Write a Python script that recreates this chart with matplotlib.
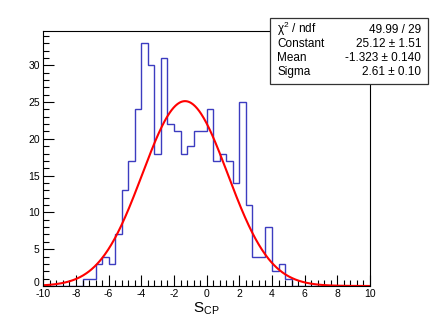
import numpy as np
import matplotlib.pyplot as plt
from matplotlib.patches import Rectangle
from matplotlib.ticker import MultipleLocator, FuncFormatter
from matplotlib.transforms import offset_copy

plt.rcParams['font.family'] = ['Liberation Sans', 'DejaVu Sans']
plt.rcParams['mathtext.fontset'] = 'custom'
plt.rcParams['mathtext.rm'] = 'Liberation Sans'
plt.rcParams['mathtext.it'] = 'Liberation Sans:italic'
plt.rcParams['axes.unicode_minus'] = False

# histogram: 50 bins of width 0.4 from -10 to 10
edges = np.linspace(-10, 10, 51)
counts = [0, 0, 0, 0, 0, 0,
          1, 1, 3, 4, 3, 7, 13, 17, 24, 33, 30, 18, 31, 22,
          21, 18, 19, 21, 21, 24, 17, 18, 17, 14, 25, 11, 4, 4, 8, 2, 3, 1,
          0, 0, 0, 0, 0, 0, 0, 0, 0, 0, 0, 0]

# gaussian fit result
fit_const = 25.12
fit_mean = -1.323
fit_sigma = 2.61
stats_labels = [u'\u03c7$^{2}$ / ndf', 'Constant', 'Mean', 'Sigma']
stats_values = ['49.99 / 29', u'25.12 \u00b1 1.51', u'-1.323 \u00b1 0.140', u'2.61 \u00b1 0.10']

W, H = 436, 318
fig = plt.figure(figsize=(W / 100, H / 100), dpi=100)
ax = fig.add_axes([43.3 / W, 1 - 286 / H, (370 - 43.3) / W, (286 - 31) / H])

ax.stairs(counts, edges, color='#3c3cc0', lw=1.0)
xf = np.linspace(-10, 10, 500)
ax.plot(xf, fit_const * np.exp(-0.5 * ((xf - fit_mean) / fit_sigma) ** 2), color='#ff0000', lw=1.5)

ax.set_xlim(-10, 10)
ax.set_ylim(0, 1.05 * max(counts))
ax.xaxis.set_major_locator(MultipleLocator(2))
ax.xaxis.set_minor_locator(MultipleLocator(0.4))
ax.yaxis.set_major_locator(MultipleLocator(5))
ax.yaxis.set_minor_locator(MultipleLocator(1))
# the y "0" is drawn separately, a bit higher, so it clears the x "-10"
ax.yaxis.set_major_formatter(FuncFormatter(lambda v, p: '' if v == 0 else '%d' % v))
ax.text(-10, 0, '0', fontsize=7.5, ha='right', va='center',
        transform=offset_copy(ax.transData, fig=fig, x=-2.8, y=1.8, units='points'))
ax.tick_params(which='both', direction='in', labelsize=7.5, width=0.8, color='black')
ax.tick_params(which='major', length=8)
ax.tick_params(which='minor', length=4)
ax.tick_params(axis='x', which='major', pad=2.5)
ax.tick_params(axis='y', which='major', pad=2.5)
for s in ax.spines.values():
    s.set_linewidth(0.8)
ax.set_xlabel(r'$\mathrm{S}_{\mathrm{CP}}$', fontsize=11, labelpad=0.5)

# stats box
fig.add_artist(Rectangle((270 / W, 1 - 84 / H), (428 - 270) / W, (84 - 18) / H,
                         transform=fig.transFigure, facecolor='white', edgecolor='#333333',
                         lw=0.9, zorder=5))
for i, (lab, val) in enumerate(zip(stats_labels, stats_values)):
    yy = 1 - (33 + 14 * i) / H
    fig.text(277 / W, yy, lab, ha='left', va='baseline', fontsize=8.5, zorder=6)
    fig.text(421 / W, yy, val, ha='right', va='baseline', fontsize=8.5, zorder=6)

fig.savefig('out.png', dpi=100)
